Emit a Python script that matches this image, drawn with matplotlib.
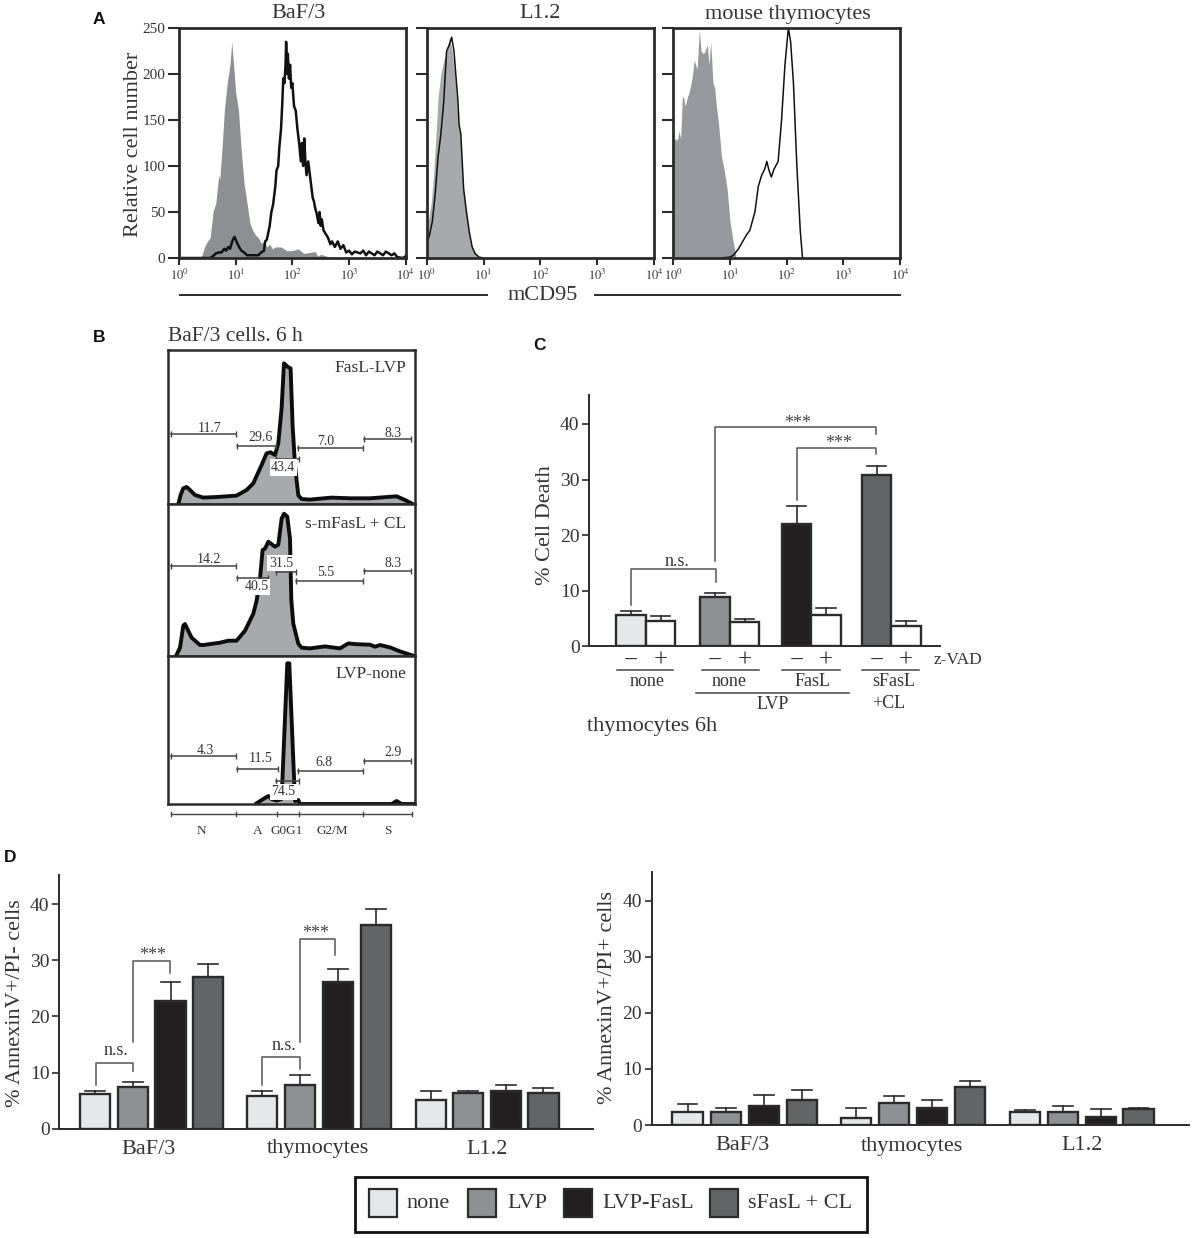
#!/usr/bin/env python3
"""Flow cytometry histograms and cell death bar charts (panels A-D)."""

import matplotlib

matplotlib.use("Agg")
import matplotlib.pyplot as plt
from matplotlib.lines import Line2D
from matplotlib.patches import Rectangle

W, H = 1192, 1238
INK = "#2b2b2b"
TXT = "#333333"
NONE_C, LVP_C, FASL_C, SFASL_C = "#e6e7e8", "#8e9094", "#231f20", "#636466"

plt.rcParams["font.family"] = ["Liberation Serif", "DejaVu Serif"]
plt.rcParams["mathtext.fontset"] = "stix"

# panel A, x is log10 of mCD95 signal
baf_fill_x = [0.30, 0.40, 0.45, 0.50, 0.55, 0.60, 0.65, 0.70, 0.72, 0.76, 0.80, 0.85, 0.90, 0.93, 0.97,
              1.00, 1.05, 1.10, 1.15, 1.20, 1.25, 1.30, 1.35, 1.40, 1.45, 1.50, 1.55, 1.60, 1.65, 1.70,
              1.80, 1.90, 2.00, 2.10, 2.20, 2.30, 2.40, 2.45, 2.50, 2.60, 2.70, 2.80]
baf_fill_y = [0, 2, 12, 18, 22, 50, 60, 90, 85, 120, 160, 190, 210, 235, 205,
              180, 160, 115, 80, 60, 38, 30, 25, 22, 16, 18, 12, 15, 10, 12,
              12, 8, 8, 10, 5, 6, 7, 2, 4, 2, 1, 0]
baf_line_x = [0.00, 0.55, 0.60, 0.65, 0.70, 0.75, 0.80, 0.83, 0.87, 0.90, 0.95, 0.98, 1.02, 1.06, 1.10,
              1.15, 1.20, 1.30, 1.40, 1.45, 1.50, 1.52, 1.55, 1.60, 1.63, 1.66, 1.70, 1.72, 1.75, 1.77,
              1.80, 1.82, 1.84, 1.86, 1.88, 1.89, 1.91, 1.92, 1.94, 1.96, 1.98, 2.00, 2.03, 2.06, 2.09,
              2.12, 2.15, 2.17, 2.19, 2.21, 2.23, 2.25, 2.28, 2.31, 2.33, 2.36, 2.38, 2.40, 2.43, 2.46,
              2.48, 2.50, 2.52, 2.55, 2.60, 2.63, 2.67, 2.70, 2.75, 2.80, 2.85, 2.90, 2.95, 3.00, 3.05,
              3.10, 3.20, 3.25, 3.30, 3.35, 3.45, 3.50, 3.60, 3.65, 3.75, 3.80, 3.85, 3.95, 4.00]
baf_line_y = [0, 0, 2, 5, 6, 6, 10, 8, 12, 10, 20, 23, 17, 12, 8,
              6, 3, 3, 3, 6, 8, 18, 20, 35, 50, 58, 78, 95, 100, 120,
              140, 165, 195, 190, 210, 235, 200, 222, 195, 210, 185, 190, 165, 160, 140,
              125, 105, 125, 100, 130, 105, 90, 105, 90, 80, 65, 62, 55, 48, 38,
              50, 35, 42, 30, 25, 22, 15, 18, 12, 18, 10, 14, 6, 8, 4,
              7, 5, 8, 3, 7, 3, 7, 3, 7, 3, 5, 1, 0, 2]
l12_fill_x = [0.00, 0.03, 0.08, 0.12, 0.16, 0.20, 0.25, 0.30, 0.35, 0.40, 0.45, 0.50, 0.55, 0.60, 0.63,
              0.68, 0.72, 0.78, 0.85, 0.92, 1.00]
l12_fill_y = [20, 40, 60, 90, 130, 175, 200, 215, 225, 240, 225, 195, 150, 125, 85,
              55, 35, 15, 5, 1, 0]
l12_line_x = [0.00, 0.05, 0.10, 0.15, 0.20, 0.25, 0.30, 0.35, 0.40, 0.44, 0.48, 0.55, 0.57, 0.60, 0.65,
              0.70, 0.75, 0.80, 0.85, 0.92, 1.00]
l12_line_y = [15, 25, 40, 70, 110, 135, 170, 225, 232, 240, 225, 170, 145, 135, 75,
              50, 28, 12, 5, 1, 0]
thy_fill_x = [0.00, 0.03, 0.06, 0.08, 0.10, 0.13, 0.16, 0.18, 0.21, 0.25, 0.28, 0.33, 0.37, 0.42, 0.46,
              0.49, 0.53, 0.56, 0.60, 0.63, 0.66, 0.70, 0.73, 0.76, 0.80, 0.85, 0.90, 0.95, 1.00, 1.05, 1.10]
thy_fill_y = [125, 130, 128, 130, 138, 130, 175, 175, 165, 175, 180, 195, 215, 205, 248,
              225, 222, 225, 232, 210, 235, 190, 185, 165, 145, 110, 95, 75, 40, 20, 3]
thy_line_x = [0.85, 1.00, 1.06, 1.15, 1.29, 1.35, 1.44, 1.50, 1.56, 1.60, 1.62, 1.65, 1.69, 1.73, 1.78,
              1.85, 1.91, 1.97, 2.03, 2.07, 2.12, 2.18, 2.24, 2.28]
thy_line_y = [0, 1, 3, 10, 25, 30, 50, 78, 90, 95, 98, 105, 95, 88, 97,
              105, 150, 210, 250, 235, 190, 100, 30, 0]

# panel B histograms, channel vs count
fasl_x = [10, 12.3, 15, 18.3, 21.7, 26.7, 35, 48.3, 68.3, 78.3, 85, 93.3, 98.3, 102.3, 106.7, 110,
          113.3, 115.7, 120, 122.3, 124.3, 126.7, 130, 133.3, 141.7, 163.3, 181.7, 201.7, 228.3, 236.7, 245]
fasl_y = [0, 9.3, 16, 17.3, 14.3, 9.3, 6.7, 7.3, 8.7, 14.3, 21, 39.3, 51, 52, 49.3, 61,
          96, 141, 137, 136, 79, 39, 9, 5.3, 4.7, 6.7, 6, 6, 8, 4.3, 0]
smfasl_x = [8.3, 11.7, 15, 16.7, 23.3, 31.7, 35, 51.7, 60, 68.3, 76.7, 85, 88.3, 91.7, 94.3, 96.7, 100,
            106.7, 110, 113.3, 115.7, 119, 121.7, 123, 125, 130, 133.3, 141.7, 156.7, 171.7, 180, 188.3,
            201.7, 206.7, 211.7, 221.7, 231.7, 245]
smfasl_y = [1, 8, 30, 31.7, 18, 10.7, 10.7, 13, 15, 15, 25, 42, 55, 77, 105.7, 107, 114,
            109, 111, 137, 142, 139, 117, 55.7, 32, 12, 8, 7.3, 9.3, 7.3, 12.3, 11.5,
            11, 9, 10.7, 8.3, 4.3, 0]
none_x = [88.3, 95, 100, 103.3, 108.3, 113.3, 119, 121, 126.7, 130, 131.7, 223.3, 228.3, 233.3, 245]
none_y = [0.7, 5, 8, 5, 3.5, 5, 140.7, 140.7, 3, 4, 0, 0, 3, 0, 0]

# gates: start, stop, height, label, label x, label y
gates_fasl = [(2.7, 67.7, 70.7, "11.7", 41, 76),
              (68.3, 107.7, 58, "29.6", 92, 67),
              (108, 131, 45.7, "43.4", 115, 36.7),
              (130, 194.3, 56, "7.0", 157, 63),
              (195.7, 243, 65, "8.3", 225, 71)]
gates_sm = [(2.7, 67.7, 89.7, "14.2", 41, 96),
            (68.3, 100, 77.4, "40.5", 88.3, 69),
            (108, 128, 83.7, "31.5", 112.7, 92.4),
            (128, 194.3, 75, "5.5", 157, 83),
            (195.7, 243, 84.7, "8.3", 225, 92)]
gates_none = [(2.7, 67.7, 47.7, "4.3", 36.7, 54),
              (68.3, 110, 35.3, "11.5", 92, 45),
              (108, 131, 23.3, "74.5", 115, 12.3),
              (130, 194.3, 33.3, "6.8", 156, 41),
              (195.7, 243, 42.7, "2.9", 225, 51)]
scale_ticks = [2.7, 67.7, 109, 130.7, 195, 243.3]
scale_labels = ["N", "A", "G0G1", "G2/M", "S"]
scale_label_x = [33.3, 89, 118.3, 164, 220]

# panel C
c_centres = [631, 660.5, 715, 744.5, 796.7, 826, 876.7, 906]
c_values = [5.7, 4.5, 8.8, 4.4, 22.0, 5.7, 30.8, 3.7]
c_tops = [6.3, 5.4, 9.6, 4.9, 25.2, 6.8, 32.5, 4.5]
c_colors = [NONE_C, "white", LVP_C, "white", FASL_C, "white", SFASL_C, "white"]

# panel D
group_colors = [NONE_C, LVP_C, FASL_C, SFASL_C] * 3
dl_centres = [94.7, 132.6, 170.5, 208.2, 262, 299.7, 337.7, 375.6, 430.7, 468.2, 505.7, 543.4]
dl_values = [6.1, 7.4, 22.7, 27.1, 5.9, 7.8, 26.2, 36.3, 5.1, 6.3, 6.8, 6.3]
dl_tops = [6.8, 8.4, 26.2, 29.3, 6.8, 9.6, 28.4, 39.2, 6.8, 6.8, 7.8, 7.3]
dr_centres = [687.5, 725.6, 763.7, 801.7, 855.6, 893.7, 931.7, 969.8, 1025.2, 1062.9, 1100.6, 1138.5]
dr_values = [2.25, 2.25, 3.4, 4.5, 1.2, 4.0, 3.1, 6.8, 2.25, 2.25, 1.5, 2.9]
dr_tops = [3.7, 3.1, 5.3, 6.2, 3.1, 5.1, 4.5, 7.8, 2.7, 3.4, 2.8, 3.1]
legend_names = ["none", "LVP", "LVP-FasL", "sFasL + CL"]

fig = plt.figure(figsize=(W / 100, H / 100), dpi=100)


def add_ax(left, top, right, bottom):
    """Axes from a pixel box measured from the top left of the figure."""
    return fig.add_axes([left / W, 1 - bottom / H, (right - left) / W, (bottom - top) / H])


def ptext(x, y, s, size=16, ha="center", va="center", **kw):
    kw.setdefault("color", TXT)
    fig.text(x / W, 1 - y / H, s, fontsize=size, ha=ha, va=va, **kw)


def pline(xs, ys, lw=1.2, color=INK):
    fig.add_artist(Line2D([x / W for x in xs], [1 - y / H for y in ys], lw=lw, color=color))


def flow_panel(box, fill_x, fill_y, fill_c, line_x, line_y, lw, first=False):
    ax = add_ax(*box)
    ax.fill_between(fill_x, fill_y, 0, color=fill_c, lw=0)
    ax.plot(line_x, line_y, color="#111111", lw=lw)
    ax.set_xlim(0, 4)
    ax.set_ylim(0, 250)
    ax.set_xticks(range(5))
    ax.set_xticklabels([f"$10^{{{n}}}$" for n in range(5)], fontsize=9, color=TXT)
    ax.set_yticks(range(0, 251, 50))
    if first:
        ax.set_yticklabels(range(0, 251, 50), fontsize=11, color=TXT)
    else:
        ax.set_yticklabels([])
    ax.tick_params(axis="x", length=5, width=1.5, color=INK, pad=2)
    ax.tick_params(axis="y", length=8, width=1.5, color=INK, pad=2)
    for sp in ax.spines.values():
        sp.set_linewidth(2)
        sp.set_color(INK)
    return ax


def cycle_panel(box, xs, ys, gates, name, name_y):
    ax = add_ax(*box)
    ax.fill_between(xs, ys, 0, color="#a7a9ac", lw=0, zorder=1)
    ax.plot(xs, ys, color="#0d0d0d", lw=2.8, zorder=2, solid_joinstyle="round")
    ax.set_xlim(0, box[2] - box[0])
    ax.set_ylim(0, box[3] - box[1])
    ax.set_xticks([])
    ax.set_yticks([])
    for sp in ax.spines.values():
        sp.set_linewidth(1.8)
        sp.set_color(INK)
    for start, stop, level, label, lx, ly in gates:
        ax.plot([start, stop], [level, level], color="#444444", lw=1.1, zorder=3,
                marker="|", ms=4, mew=1)
        boxed = label in ("43.4", "40.5", "31.5", "74.5")
        ax.text(lx, ly, label, fontsize=10, color=TXT, ha="center", va="center", zorder=4,
                bbox=dict(fc="white", ec="none", pad=1.2) if boxed else None)
    ax.text(box[2] - box[0] - 9, name_y, name, fontsize=12.5, color=TXT, ha="right", va="center")
    return ax


def bars(ax, centres, values, tops, colors, width):
    ax.bar(centres, values, width=width, color=colors, edgecolor=INK, lw=1.7, zorder=2)
    for x, v, t in zip(centres, values, tops):
        ax.plot([x, x], [v, t], color=INK, lw=1.2, zorder=1)
        ax.plot([x - width * 0.33, x + width * 0.33], [t, t], color=INK, lw=1.2, zorder=1)


def bar_axes(box, ylabel_x, ylabel_y, ylabel):
    ax = add_ax(*box)
    ax.set_xlim(box[0], box[2])
    ax.set_ylim(0, 45.2)
    ax.set_yticks(range(0, 41, 10))
    ax.set_xticks([])
    ax.tick_params(axis="y", length=5, width=1.2, labelsize=14, labelcolor=TXT, color=INK, pad=2)
    for side in ("top", "right"):
        ax.spines[side].set_visible(False)
    for side in ("left", "bottom"):
        ax.spines[side].set_linewidth(1.4)
        ax.spines[side].set_color(INK)
    ptext(ylabel_x, ylabel_y, ylabel, rotation=90)
    return ax


def bracket(ax, x0, y0, x1, y1, level, label, lx, ly):
    ax.plot([x0, x0, x1, x1], [y0, level, level, y1], color="#555555", lw=1.1, zorder=3)
    if label == "***":
        ax.text(lx, ly - 0.7, label, fontsize=13, color="#444444", ha="center", va="center")
    else:
        ax.text(lx, ly, label, fontsize=13, color=TXT, ha="center", va="center")


# A
ptext(99, 20, "A", size=12.5, weight="bold", family="Liberation Sans", color="#111111")
flow_panel((179, 28, 405.7, 258), baf_fill_x, baf_fill_y, "#8d8f93", baf_line_x, baf_line_y, 1.8, True)
flow_panel((426.7, 28, 654, 258), l12_fill_x, l12_fill_y, "#a7a9ac", l12_line_x, l12_line_y, 1.1)
flow_panel((673.3, 28, 900, 258), thy_fill_x, thy_fill_y, "#96989d", thy_line_x, thy_line_y, 1.1)
ptext(299, 14, "BaF/3")
ptext(540, 14, "L1.2")
ptext(788, 14, "mouse thymocytes")
ptext(133, 144, "Relative cell number", rotation=90)
pline([180, 487], [295, 295], lw=1.4)
pline([595, 900], [295, 295], lw=1.4)
ptext(543, 296, "mCD95")

# B
ptext(99, 338, "B", size=12.5, weight="bold", family="Liberation Sans", color="#111111")
ptext(168, 336, "BaF/3 cells. 6 h", size=15.5, ha="left")
cycle_panel((168.3, 350, 415, 504.3), fasl_x, fasl_y, gates_fasl, "FasL-LVP", 136)
cycle_panel((168.3, 504.3, 415, 655.7), smfasl_x, smfasl_y, gates_sm, "s-mFasL + CL", 132)
cycle_panel((168.3, 655.7, 415, 804), none_x, none_y, gates_none, "LVP-none", 130)
pline([171, 411.5], [814, 814], lw=1, color="#444444")
for t in scale_ticks:
    pline([168.3 + t, 168.3 + t], [812, 816], lw=1, color="#444444")
for lab, lx in zip(scale_labels, scale_label_x):
    ptext(168.3 + lx, 830.7, lab, size=9.5)

# C
ptext(540, 345, "C", size=12.5, weight="bold", family="Liberation Sans", color="#111111")
ax_c = bar_axes((589.3, 395, 940, 646.3), 546, 525, "% Cell Death")
bars(ax_c, c_centres, c_values, c_tops, c_colors, 29.3)
bracket(ax_c, 631, 7.45, 716, 11.5, 13.9, "n.s.", 676.5, 15.3)
bracket(ax_c, 715.3, 15.4, 876, 38.1, 39.4, "***", 797.3, 40.8)
bracket(ax_c, 796.7, 26.4, 876, 34.5, 35.7, "***", 838.3, 37.2)
for centre in c_centres[::2]:
    ptext(centre, 661, "\u2212", size=18)
    ptext(centre + 29.5, 661, "+", size=18)
for x0, x1, lab, lx in [(616.7, 673.3, "none", 647.3), (702, 759, "none", 729.3),
                        (782.3, 839.7, "FasL", 812.3), (861.7, 918.7, "sFasL", 894)]:
    pline([x0, x1], [670, 670], lw=1.1, color="#444444")
    ptext(lx, 681, lab, size=13)
pline([696, 849], [692.7, 692.7], lw=1.1, color="#444444")
ptext(772.7, 704, "LVP", size=13)
ptext(888.3, 703, "+CL", size=13)
ptext(958, 660, "z-VAD", size=12.5)
ptext(587, 726.7, "thymocytes 6h", ha="left")

# D
ptext(4, 858, "D", size=12.5, weight="bold", family="Liberation Sans", color="#111111", ha="left")
ax_dl = bar_axes((59.3, 875, 593, 1128.7), 16, 1003, "% AnnexinV+/PI- cells")
bars(ax_dl, dl_centres, dl_values, dl_tops, group_colors, 30.2)
bracket(ax_dl, 96, 7.8, 132.8, 10.3, 11.75, "n.s.", 116, 14)
bracket(ax_dl, 132.8, 15.5, 170.3, 27.7, 29.9, "***", 152.3, 31.5)
bracket(ax_dl, 261.8, 7.8, 299.7, 10.7, 12.8, "n.s.", 284, 14.9)
bracket(ax_dl, 299.7, 15.5, 335, 30.9, 33.8, "***", 315.7, 35.4)
ptext(148.5, 1149, "BaF/3")
ptext(317.6, 1149, "thymocytes")
ptext(487, 1149, "L1.2")

ax_dr = bar_axes((651.5, 871.7, 1189, 1125), 607, 997, "% AnnexinV+/PI+ cells")
bars(ax_dr, dr_centres, dr_values, dr_tops, group_colors, 30.2)
ptext(742, 1146, "BaF/3")
ptext(912.3, 1146, "thymocytes")
ptext(1082.3, 1146, "L1.2")

# legend box
fig.add_artist(Rectangle((354.5 / W, 1 - 1232 / H), 512.5 / W, 55.5 / H, transform=fig.transFigure,
                         fc="white", ec="#111111", lw=2))
for sw_x, txt_x, name, col in zip([369, 468, 564, 710], [406, 507, 602, 748], legend_names,
                                  [NONE_C, LVP_C, FASL_C, SFASL_C]):
    fig.add_artist(Rectangle((sw_x / W, 1 - 1217 / H), 27.5 / W, 28 / H, transform=fig.transFigure,
                             fc=col, ec=INK, lw=1.6))
    ptext(txt_x, 1203, name, ha="left")

fig.savefig("out.png", dpi=100)
